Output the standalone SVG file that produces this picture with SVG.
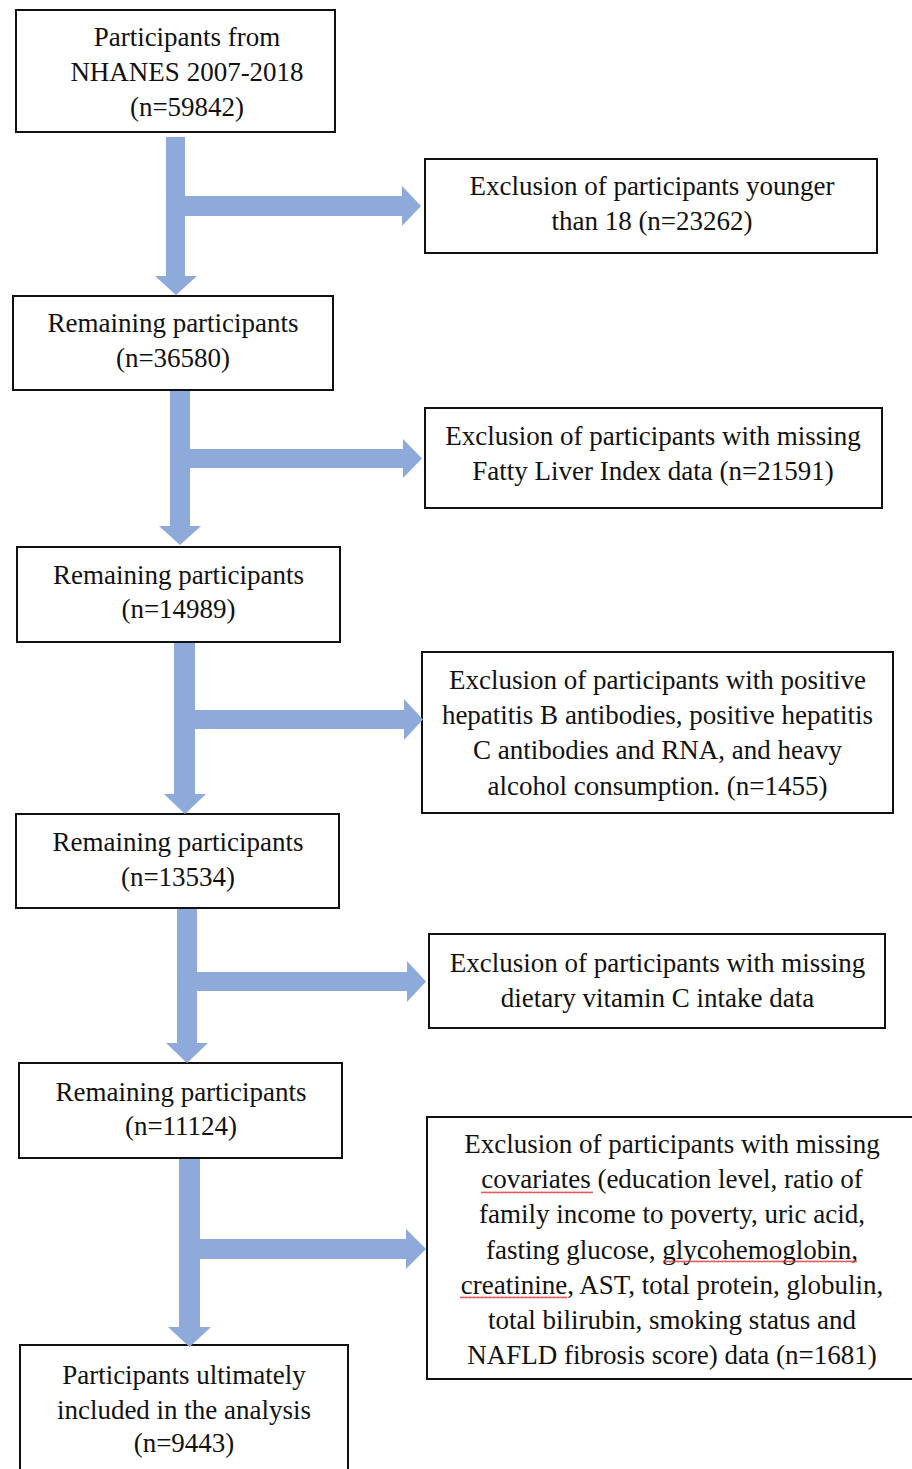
<svg xmlns="http://www.w3.org/2000/svg" width="912" height="1469" viewBox="0 0 912 1469">
  <style>
    .box { fill: #ffffff; stroke: #111111; stroke-width: 2; }
    .t { font-family: "Liberation Serif", "Times New Roman", serif; font-size: 27px; fill: #111111; text-anchor: middle; }
    .arrow { fill: #8EAADB; stroke: none; }
  </style>
  <defs>
    <pattern id="wave" width="4" height="3" patternUnits="userSpaceOnUse">
      <path d="M0,2.4 L1,0.6 L2,2.4 L3,0.6 L4,2.4" fill="none" stroke="#e03030" stroke-width="0.8"/>
    </pattern>
  </defs>
  <rect width="912" height="1469" fill="#ffffff"/>

  <g id="node-start">
    <rect class="box" x="16" y="10" width="319" height="122"/>
    <text class="t" x="187" y="46">Participants from</text>
    <text class="t" x="187" y="81">NHANES 2007-2018</text>
    <text class="t" x="187" y="116">(n=59842)</text>
  </g>
  <g id="node-excl1">
    <rect class="box" x="425" y="159" width="452" height="94"/>
    <text class="t" x="652" y="195">Exclusion of participants younger</text>
    <text class="t" x="652" y="230">than 18 (n=23262)</text>
  </g>
  <g id="node-rem1">
    <rect class="box" x="13" y="296" width="320" height="94"/>
    <text class="t" x="173" y="332">Remaining participants</text>
    <text class="t" x="173" y="367">(n=36580)</text>
  </g>
  <g id="node-excl2">
    <rect class="box" x="425" y="408" width="457" height="100"/>
    <text class="t" x="653" y="445">Exclusion of participants with missing</text>
    <text class="t" x="653" y="480">Fatty Liver Index data (n=21591)</text>
  </g>
  <g id="node-rem2">
    <rect class="box" x="17" y="547" width="323" height="95"/>
    <text class="t" x="178.5" y="584">Remaining participants</text>
    <text class="t" x="178.5" y="618">(n=14989)</text>
  </g>
  <g id="node-excl3">
    <rect class="box" x="422" y="652" width="471" height="161"/>
    <text class="t" x="657.5" y="689">Exclusion of participants with positive</text>
    <text class="t" x="657.5" y="724">hepatitis B antibodies, positive hepatitis</text>
    <text class="t" x="657.5" y="759">C antibodies and RNA, and heavy</text>
    <text class="t" x="657.5" y="795">alcohol consumption. (n=1455)</text>
  </g>
  <g id="node-rem3">
    <rect class="box" x="16" y="814" width="323" height="94"/>
    <text class="t" x="178" y="851">Remaining participants</text>
    <text class="t" x="178" y="886">(n=13534)</text>
  </g>
  <g id="node-excl4">
    <rect class="box" x="429" y="934" width="456" height="94"/>
    <text class="t" x="657.5" y="972">Exclusion of participants with missing</text>
    <text class="t" x="657.5" y="1007">dietary vitamin C intake data</text>
  </g>
  <g id="node-rem4">
    <rect class="box" x="19" y="1063" width="323" height="95"/>
    <text class="t" x="181" y="1101">Remaining participants</text>
    <text class="t" x="181" y="1135">(n=11124)</text>
  </g>
  <g id="node-excl5">
    <rect class="box" x="427" y="1117" width="495" height="262"/>
    <text class="t" x="672" y="1153">Exclusion of participants with missing</text>
    <text class="t" x="672" y="1188">covariates (education level, ratio of</text>
    <text class="t" x="672" y="1223">family income to poverty, uric acid,</text>
    <text class="t" x="672" y="1259">fasting glucose, glycohemoglobin,</text>
    <text class="t" x="672" y="1294">creatinine, AST, total protein, globulin,</text>
    <text class="t" x="672" y="1329">total bilirubin, smoking status and</text>
    <text class="t" x="672" y="1364">NAFLD fibrosis score) data (n=1681)</text>
    <rect x="481" y="1191" width="112" height="3" fill="url(#wave)"/>
    <rect x="663" y="1260" width="194" height="3" fill="url(#wave)"/>
    <rect x="460" y="1296" width="107" height="3" fill="url(#wave)"/>
  </g>
  <g id="node-final">
    <rect class="box" x="20" y="1345" width="328" height="140"/>
    <text class="t" x="184" y="1384">Participants ultimately</text>
    <text class="t" x="184" y="1419">included in the analysis</text>
    <text class="t" x="184" y="1452">(n=9443)</text>
  </g>

  <g id="connectors">
    <polygon class="arrow" points="166,137 185,137 185,276 197,276 176,295 155,276 166,276"/>
    <polygon class="arrow" points="185,196 402,196 402,186 421,206 402,226 402,216 185,216"/>
    <polygon class="arrow" points="170,391 190,391 190,526 201,526 180,545 159,526 170,526"/>
    <polygon class="arrow" points="190,449 403,449 403,439 422,458.5 403,478 403,468 190,468"/>
    <polygon class="arrow" points="174,643 195,643 195,794 206,794 185,814 164,794 174,794"/>
    <polygon class="arrow" points="195,710 404,710 404,699 423,719.5 404,740 404,729 195,729"/>
    <polygon class="arrow" points="177,909 197,909 197,1043 208,1043 187,1063 166,1043 177,1043"/>
    <polygon class="arrow" points="197,972 407,972 407,961 426,981.5 407,1002 407,991 197,991"/>
    <polygon class="arrow" points="179,1159 200,1159 200,1327 211,1327 189.5,1347 168,1327 179,1327"/>
    <polygon class="arrow" points="200,1239 406,1239 406,1229 426,1249 406,1269 406,1259 200,1259"/>
  </g>
</svg>
